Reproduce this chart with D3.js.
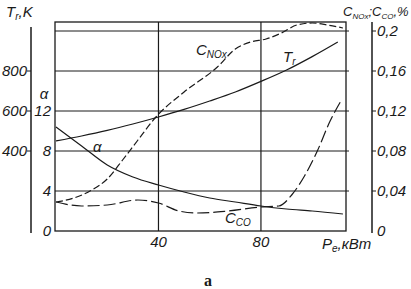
<!DOCTYPE html>
<html>
<head>
<meta charset="utf-8">
<script src="https://cdn.jsdelivr.net/npm/d3@7"></script>
<style>
  body { margin: 0; background: #fff; }
  text { font-family: "Liberation Sans Narrow", "Liberation Sans", sans-serif; font-style: italic; fill: #1a1a1a; }
</style>
</head>
<body>
<script>
// power, kW
const powerT = [0, 10, 20, 30, 40, 50, 60, 70, 80, 90, 100, 110]
const tempT = [450, 475, 503, 535, 570, 608, 650, 695, 748, 805, 872, 945]

const powerAlpha = [0, 10, 20, 30, 40, 50, 60, 70, 80, 90, 100, 112]
const alphaVals = [10.4, 8.5, 6.6, 5.4, 4.6, 3.9, 3.3, 2.9, 2.5, 2.2, 2.0, 1.7]

const powerNox = [0, 7, 14, 20, 26, 32, 39, 50, 63, 70, 76, 82, 88, 94, 100, 106, 112]
const noxVals = [0.029, 0.033, 0.041, 0.052, 0.071, 0.091, 0.114, 0.139, 0.164, 0.182, 0.189, 0.192, 0.198, 0.206, 0.208, 0.206, 0.203]

const powerCo = [0, 10, 20, 32, 40, 48, 55, 67, 80, 87, 92, 97, 102, 107, 111]
const coVals = [0.029, 0.025, 0.026, 0.031, 0.028, 0.020, 0.018, 0.020, 0.024, 0.025, 0.036, 0.055, 0.080, 0.110, 0.129]

const tTicks = [400, 600, 800]
const alphaTicks = [0, 4, 8, 12]
const concTicks = [0, 0.04, 0.08, 0.12, 0.16, 0.2]
const concLabels = ["0", "0,04", "0,08", "0,12", "0,16", "0,2"]
const xTicks = [40, 80]

const svg = d3.select("body").append("svg")
  .attr("width", 411)
  .attr("height", 289)

const x = d3.scaleLinear().domain([0, 113.2]).range([56, 346])
const yT = d3.scaleLinear().domain([0, 1000]).range([231, 31])
const yA = d3.scaleLinear().domain([0, 12]).range([231, 111])
const yC = d3.scaleLinear().domain([0, 0.2]).range([231, 31])

const ink = "#1a1a1a"

// grid
svg.append("g").selectAll("line")
  .data(concTicks.slice(1))
  .enter().append("line")
  .attr("x1", 55).attr("x2", 349)
  .attr("y1", d => yC(d)).attr("y2", d => yC(d))
  .attr("stroke", ink).attr("stroke-width", 1)
svg.append("g").selectAll("line")
  .data(xTicks)
  .enter().append("line")
  .attr("x1", d => x(d)).attr("x2", d => x(d))
  .attr("y1", 22).attr("y2", 231)
  .attr("stroke", ink).attr("stroke-width", 1.2)

// frame
svg.append("rect")
  .attr("x", 55).attr("y", 22)
  .attr("width", 291).attr("height", 209)
  .attr("fill", "none").attr("stroke", ink).attr("stroke-width", 1.3)

// left T axis
svg.append("line").attr("x1", 31).attr("x2", 31).attr("y1", 27).attr("y2", 233)
  .attr("stroke", ink).attr("stroke-width", 1.5)
svg.append("g").selectAll("line").data(tTicks).enter().append("line")
  .attr("x1", 27).attr("x2", 31)
  .attr("y1", d => yT(d)).attr("y2", d => yT(d))
  .attr("stroke", ink)
svg.append("g").selectAll("text").data(tTicks).enter().append("text")
  .attr("x", 27).attr("y", d => yT(d) + 5)
  .attr("text-anchor", "end").attr("font-size", 15)
  .text(d => d)
const tTitle = svg.append("text").attr("x", 6).attr("y", 17).attr("font-size", 15)
tTitle.append("tspan").text("T")
tTitle.append("tspan").attr("dy", 3).attr("font-size", 10).text("r")
tTitle.append("tspan").attr("dy", -3).text(",K")

// alpha labels
svg.append("g").selectAll("text").data(alphaTicks).enter().append("text")
  .attr("x", 51).attr("y", d => yA(d) + 5)
  .attr("text-anchor", "end").attr("font-size", 15)
  .text(d => d)
svg.append("text").attr("x", 44).attr("y", 99).attr("text-anchor", "middle")
  .attr("font-size", 15).text("α")

// right axis
svg.append("line").attr("x1", 372).attr("x2", 372).attr("y1", 22).attr("y2", 233)
  .attr("stroke", ink).attr("stroke-width", 1.5)
svg.append("g").selectAll("line").data(concTicks.slice(1)).enter().append("line")
  .attr("x1", 372).attr("x2", 376)
  .attr("y1", d => yC(d)).attr("y2", d => yC(d))
  .attr("stroke", ink)
svg.append("g").selectAll("text").data(concTicks).enter().append("text")
  .attr("x", 377).attr("y", d => yC(d) + 5)
  .attr("font-size", 15)
  .text((d, i) => concLabels[i])
const cTitle = svg.append("text").attr("x", 343).attr("y", 16).attr("font-size", 13)
cTitle.append("tspan").text("C")
cTitle.append("tspan").attr("dy", 3).attr("font-size", 8).text("NOx")
cTitle.append("tspan").attr("dy", -3).text(";C")
cTitle.append("tspan").attr("dy", 3).attr("font-size", 8).text("CO")
cTitle.append("tspan").attr("dy", -3).text(",%")

// x labels
svg.append("g").selectAll("text").data(xTicks).enter().append("text")
  .attr("x", d => x(d)).attr("y", 247)
  .attr("text-anchor", "middle").attr("font-size", 15)
  .text(d => d)
const pTitle = svg.append("text").attr("x", 322).attr("y", 249).attr("font-size", 15)
pTitle.append("tspan").text("P")
pTitle.append("tspan").attr("dy", 3).attr("font-size", 10).text("e")
pTitle.append("tspan").attr("dy", -3).text(",кВт")

// curves
function curve(px, py, ys, dash) {
  const pts = px.map((p, i) => [x(p), ys(py[i])])
  svg.append("path")
    .attr("d", d3.line().curve(d3.curveMonotoneX)(pts))
    .attr("fill", "none").attr("stroke", ink).attr("stroke-width", 1.2)
    .attr("stroke-dasharray", dash)
}
curve(powerT, tempT, yT, null)
curve(powerAlpha, alphaVals, yA, null)
curve(powerNox, noxVals, yC, "7,3")
curve(powerCo, coVals, yC, "12,4")

// curve labels
const trLab = svg.append("text").attr("x", 283).attr("y", 62).attr("font-size", 15)
trLab.append("tspan").text("T")
trLab.append("tspan").attr("dy", 3).attr("font-size", 10).text("r")
svg.append("text").attr("x", 93).attr("y", 152).attr("font-size", 15).text("α")
const noxLab = svg.append("text").attr("x", 196).attr("y", 55).attr("font-size", 15)
noxLab.append("tspan").text("C")
noxLab.append("tspan").attr("dy", 3).attr("font-size", 10).text("NOx")
const coLab = svg.append("text").attr("x", 225).attr("y", 223).attr("font-size", 15)
coLab.append("tspan").text("C")
coLab.append("tspan").attr("dy", 3).attr("font-size", 10).text("CO")

svg.append("text").attr("x", 208).attr("y", 286)
  .attr("text-anchor", "middle")
  .style("font-family", "'Liberation Serif', serif").style("font-style", "normal")
  .attr("font-weight", "bold").attr("font-size", 16)
  .text("a")
</script>
</body>
</html>
